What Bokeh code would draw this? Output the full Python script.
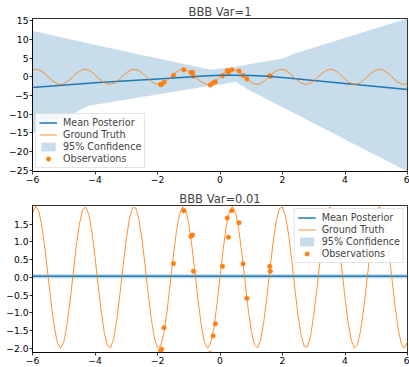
from bokeh.plotting import figure
from bokeh.layouts import column
from bokeh.models import Range1d, FixedTicker, CustomJSTickFormatter, Legend, LegendItem
from bokeh.embed import file_html
from bokeh.resources import INLINE

# ---------------- data ----------------
gt_x = [i / 10 for i in range(-60, 61)]
gt_y = [1.81, 2.00, 1.87, 1.45, 0.80, 0.02, -0.76, -1.42, -1.86, -2.00,
        -1.83, -1.36, -0.69, 0.10, 0.87, 1.50, 1.90, 1.99, 1.78, 1.28,
        0.58, -0.22, -0.97, -1.58, -1.93, -1.98, -1.72, -1.18, -0.46, 0.33,
        1.07, 1.65, 1.96, 1.96, 1.66, 1.09, 0.35, -0.45, -1.17, -1.71,
        -1.98, -1.94, -1.59, -0.99, -0.23, 0.56, 1.26, 1.77, 1.99, 1.90,
        1.51, 0.89, 0.12, -0.67, -1.35, -1.82, -2.00, -1.86, -1.43, -0.78,
        0.00, 0.78, 1.43, 1.86, 2.00, 1.82, 1.35, 0.67, -0.12, -0.89,
        -1.51, -1.90, -1.99, -1.77, -1.26, -0.56, 0.23, 0.99, 1.59, 1.94,
        1.98, 1.71, 1.17, 0.45, -0.35, -1.09, -1.66, -1.96, -1.96, -1.65,
        -1.07, -0.33, 0.46, 1.18, 1.72, 1.98, 1.93, 1.58, 0.97, 0.22,
        -0.58, -1.28, -1.78, -1.99, -1.90, -1.50, -0.87, -0.10, 0.69, 1.36,
        1.83, 2.00, 1.86, 1.42, 0.76, -0.02, -0.80, -1.45, -1.87, -2.00,
        -1.81]

obs_x = [-1.90, -1.87, -1.79, -1.49, -1.16, -0.93, -0.88, -0.85, -0.31, -0.22,
         -0.15, 0.08, 0.23, 0.27, 0.38, 0.61, 0.74, 0.86, 1.59, 1.61]
obs_y = [-2.07, -2.03, -1.42, 0.39, 1.88, 1.16, 1.19, 0.17, -2.15, -1.65,
         -1.31, 0.31, 1.67, 1.13, 1.88, 1.54, 0.38, -0.59, 0.31, 0.17]

# BBB Var=1
mean1_x = [-6, -4, -2, -1, -0.5, 0, 0.5, 1, 1.5, 2, 4, 6]
mean1_y = [-2.85, -1.6, -0.55, -0.05, 0.2, 0.4, 0.45, 0.35, 0.15, -0.15, -1.75, -3.35]
band1_x = [-6, -4.2, -0.3, 0.0, 0.5, 0.9, 2.0, 2.42, 6]
band1_lo = [-15.1, -7.7, -2.4, -2.1, -1.3, -3.4, -8.1, -9.9, -25.3]
band1_hi = [12.3, 8.9, 1.9, 2.2, 2.7, 3.3, 4.9, 6.3, 15.6]

# BBB Var=0.01
mean2_x = [-6, 6]
mean2_y = [0.03, 0.03]
band2_lo = [-0.03, -0.03]
band2_hi = [0.09, 0.09]

x_ticks = [-6, -4, -2, 0, 2, 4, 6]
y1_ticks = [-25, -20, -15, -10, -5, 0, 5, 10, 15]
y2_ticks = [-2.0, -1.5, -1.0, -0.5, 0.0, 0.5, 1.0, 1.5]

BLUE = "#1f77b4"
ORANGE = "#ff7f0e"
FONT = "DejaVu Sans"

int_fmt = CustomJSTickFormatter(code="""
var v = Math.round(tick);
return (v < 0 ? '\\u2212' : '') + Math.abs(v).toFixed(0);
""")
dec_fmt = CustomJSTickFormatter(code="""
var v = Math.abs(tick) < 1e-9 ? 0 : tick;
return (v < 0 ? '\\u2212' : '') + Math.abs(v).toFixed(1);
""")


def style(p, yticks, yfmt):
    p.xgrid.visible = False
    p.ygrid.visible = False
    p.outline_line_color = "black"
    p.outline_line_width = 0.8
    p.title.text_font = FONT
    p.title.text_font_size = "11.5px"
    p.title.text_font_style = "normal"
    p.title.align = "center"
    p.title.standoff = 0
    for ax in (p.xaxis[0], p.yaxis[0]):
        ax.major_tick_out = 3
        ax.major_tick_in = 0
        ax.minor_tick_out = 0
        ax.minor_tick_in = 0
        ax.axis_line_width = 0.8
        ax.major_tick_line_width = 0.8
        ax.major_label_text_font = FONT
        ax.major_label_text_font_size = "9.2px"
        ax.major_label_text_color = "black"
        ax.major_label_standoff = 1
    p.xaxis[0].ticker = FixedTicker(ticks=x_ticks)
    p.xaxis[0].formatter = int_fmt
    p.yaxis[0].ticker = FixedTicker(ticks=yticks)
    p.yaxis[0].formatter = yfmt


def draw(p, mx, my, bx, blo, bhi, loc):
    # matplotlib z-order: collections (band, scatter) below lines
    r_band = p.varea(x=bx, y1=blo, y2=bhi, fill_color=BLUE, fill_alpha=0.25)
    r_obs = p.scatter(obs_x, obs_y, size=4.5, fill_color=ORANGE, line_color=ORANGE,
                      line_width=0.5)
    r_mean = p.line(mx, my, color=BLUE, line_width=1.5)
    r_gt = p.line(gt_x, gt_y, color=ORANGE, line_width=1.0, line_alpha=0.85)
    lg = Legend(items=[
        LegendItem(label="Mean Posterior", renderers=[r_mean]),
        LegendItem(label="Ground Truth", renderers=[r_gt]),
        LegendItem(label="95% Confidence", renderers=[r_band]),
        LegendItem(label="Observations", renderers=[r_obs]),
    ])
    lg.location = loc
    lg.margin = 3
    lg.padding = 3
    lg.spacing = 1
    lg.label_height = 11
    lg.glyph_height = 11
    lg.glyph_width = 18
    lg.label_standoff = 6
    lg.label_text_font = FONT
    lg.label_text_font_size = "9.6px"
    lg.border_line_color = "#cccccc"
    lg.border_line_width = 0.8
    lg.background_fill_alpha = 0.8
    p.add_layout(lg, "center")


p1 = figure(width=409, height=189, x_range=Range1d(-6, 6), y_range=Range1d(-25.3, 15.6),
            title="BBB Var=1", output_backend="svg", toolbar_location=None,
            min_border_left=32, min_border_right=2, min_border_top=18, min_border_bottom=18)
draw(p1, mean1_x, mean1_y, band1_x, band1_lo, band1_hi, "bottom_left")
style(p1, y1_ticks, int_fmt)

p2 = figure(width=409, height=178, x_range=Range1d(-6, 6), y_range=Range1d(-2.12, 2.025),
            title="BBB Var=0.01", output_backend="svg", toolbar_location=None,
            min_border_left=32, min_border_right=2, min_border_top=14, min_border_bottom=15)
draw(p2, mean2_x, mean2_y, mean2_x, band2_lo, band2_hi, "top_right")
style(p2, y2_ticks, dec_fmt)

layout = column(p1, p2, spacing=0)
open("out.html", "w", encoding="utf-8").write(file_html(layout, INLINE))
